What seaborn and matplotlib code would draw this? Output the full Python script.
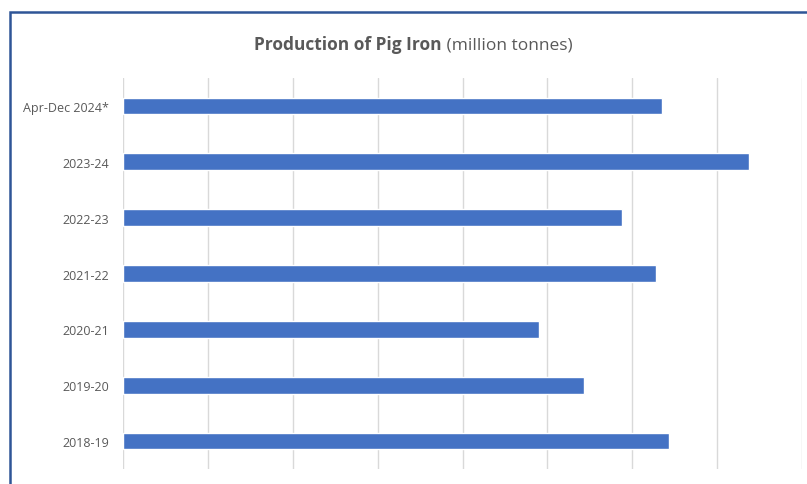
import matplotlib
matplotlib.use("Agg")
import matplotlib.pyplot as plt
import seaborn as sns
import pandas as pd
from matplotlib.patches import Rectangle

periods = ["Apr-Dec 2024*", "2023-24", "2022-23", "2021-22", "2020-21", "2019-20", "2018-19"]
production = [6.35, 7.38, 5.88, 6.28, 4.90, 5.43, 6.43]

df = pd.DataFrame({"period": periods, "production": production})

sns.set_theme(style="white")
plt.rcParams["font.family"] = ["Open Sans", "DejaVu Sans"]

fig = plt.figure(figsize=(8.07, 4.85), dpi=100)
ax = fig.add_axes([123/807, 1 - 470/485, (802 - 123)/807, (470 - 79)/485])

sns.barplot(data=df, x="production", y="period", orient="h", color="#4472C4",
            saturation=1, width=0.3, ax=ax, order=periods)

ax.set_xlim(0, 8)
ax.set_xticks(range(0, 9))
ax.xaxis.grid(True, color="#D9D9D9", linewidth=1)
ax.yaxis.grid(False)
ax.set_axisbelow(True)
ax.set_xticklabels([])
ax.tick_params(axis="x", length=0)
ax.tick_params(axis="y", length=0, pad=10, labelsize=9, labelcolor="#595959")
ax.set_xlabel("")
ax.set_ylabel("")
for s in ax.spines.values():
    s.set_visible(False)

# Title with bold and regular parts
renderer = fig.canvas.get_renderer()
t1 = fig.text(0, 1 - 45/485, "Production of Pig Iron", fontsize=12.5, fontweight="bold",
              color="#595959", ha="left", va="center")
t2 = fig.text(0, 1 - 45/485, " (million tonnes)", fontsize=12.5,
              color="#595959", ha="left", va="center")
w1 = t1.get_window_extent(renderer).width
w2 = t2.get_window_extent(renderer).width
start = 413 - (w1 + w2) / 2
t1.set_x(start / 807)
t2.set_x((start + w1) / 807)

# Border
fig.patches.append(Rectangle((10/807, -0.1), 1.2, (1 - 13/485) + 0.1,
                             transform=fig.transFigure, fill=False,
                             edgecolor="#2F5597", linewidth=1.8))

fig.savefig("out.png", dpi=100)
